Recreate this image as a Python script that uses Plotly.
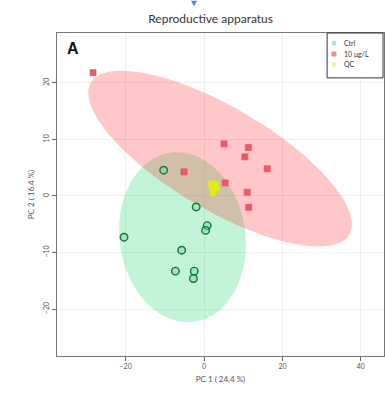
import numpy as np
import plotly.graph_objects as go

# ---- data ----
ctrl_x = [-10.3, -2.0, 0.8, 0.4, -20.4, -5.7, -7.3, -2.5, -2.7]
ctrl_y = [4.55, -1.95, -5.25, -6.1, -7.3, -9.6, -13.3, -13.3, -14.6]
trt_x = [-28.3, 5.1, 11.3, 10.4, 16.1, -5.1, 5.4, 11.0, 11.4]
trt_y = [21.8, 9.2, 8.55, 6.9, 4.8, 4.25, 2.3, 0.65, -2.0]
qc_x = [1.8, 2.8, 2.3, 3.1, 2.3]
qc_y = [2.1, 2.1, 1.4, 1.4, 0.5]

# confidence ellipses: center, two conjugate semi-axis vectors (data units)
ctrl_ell = dict(c=(-5.5, -7.3), u=(3.06, -14.96), v=(15.9, 1.56))
trt_ell = dict(c=(4.1, 6.6), u=(33.0, -13.4), v=(6.5, 7.9))

x_ticks = [-20, 0, 20, 40]
y_ticks = [-20, -10, 0, 10, 20]
title_text = "Reproductive apparatus"
x_title = "PC 1 ( 24.4 %)"
y_title = "PC 2 ( 16.4 %)"
names = ["Ctrl", "10 μg/L", "QC"]


def ellipse(e, n=240):
    t = np.linspace(0, 2 * np.pi, n)
    cx, cy = e["c"]
    ux, uy = e["u"]
    vx, vy = e["v"]
    return cx + ux * np.cos(t) + vx * np.sin(t), cy + uy * np.cos(t) + vy * np.sin(t)


fig = go.Figure()
gx, gy = ellipse(ctrl_ell)
fig.add_trace(go.Scatter(x=gx, y=gy, mode="lines", fill="toself",
                         fillcolor="rgba(0,215,90,0.24)", line=dict(width=0),
                         hoverinfo="skip", showlegend=False))
rx, ry = ellipse(trt_ell)
fig.add_trace(go.Scatter(x=rx, y=ry, mode="lines", fill="toself",
                         fillcolor="rgba(255,20,20,0.24)", line=dict(width=0),
                         hoverinfo="skip", showlegend=False))

fig.add_trace(go.Scatter(x=ctrl_x, y=ctrl_y, mode="markers", name=names[0], showlegend=False,
                         marker=dict(symbol="circle", size=7.5, color="rgba(110,220,150,0.45)",
                                     line=dict(color="#1f6e3d", width=1.4))))
fig.add_trace(go.Scatter(x=trt_x, y=trt_y, mode="markers", name=names[1], showlegend=False,
                         marker=dict(symbol="square", size=6, color="#f05868",
                                     line=dict(color="#e04858", width=0.6))))
fig.add_trace(go.Scatter(x=qc_x, y=qc_y, mode="markers", name=names[2], showlegend=False,
                         marker=dict(symbol="circle", size=7, color="#dcee10",
                                     line=dict(width=0))))

axis_common = dict(showgrid=True, gridcolor="#efefef", gridwidth=1, zeroline=False,
                   showline=True, linecolor="#777777", linewidth=1, mirror=True,
                   ticks="outside", ticklen=4, tickcolor="#666666",
                   tickfont=dict(family="Lato", size=7, color="#555555"))

fig.update_xaxes(range=[-37.5, 45.9], tickvals=x_ticks,
                 title=dict(text=x_title, font=dict(family="Lato", size=8, color="#555555"), standoff=6),
                 **axis_common)
fig.update_yaxes(range=[-28.3, 28.8], tickvals=y_ticks, tickangle=-90,
                 title=dict(text=y_title, font=dict(family="Lato", size=8, color="#555555"), standoff=6),
                 **axis_common)

# ---- compact legend drawn as layout items (paper coordinates) ----
leg_colors = ["#9ef0bc", "#f48a8a", "#f2f28a"]
leg_kinds = ["circle", "rect", "circle"]
shapes = [dict(type="rect", xref="paper", yref="paper", x0=0.826, x1=0.997, y0=0.861, y1=1.0,
               fillcolor="white", line=dict(color="#333333", width=1), layer="above")]
annotations = [dict(text="<b>A</b>", xref="paper", yref="paper", x=0.025, y=0.985,
                    xanchor="left", yanchor="top", showarrow=False,
                    font=dict(family="Liberation Sans", size=16, color="#111111"))]
row_y = [0.969, 0.935, 0.903]
gxp, rxp, ryp = 0.847, 0.0075, 0.0076
for lab, col, kind, yy in zip(names, leg_colors, leg_kinds, row_y):
    shapes.append(dict(type=kind, xref="paper", yref="paper",
                       x0=gxp - rxp, x1=gxp + rxp, y0=yy - ryp, y1=yy + ryp,
                       fillcolor=col, line=dict(width=0), layer="above"))
    annotations.append(dict(text=lab, xref="paper", yref="paper", x=0.872, y=yy,
                            xanchor="left", yanchor="middle", showarrow=False,
                            font=dict(family="Lato", size=7, color="#333333")))

# small blue arrow tip above the title
shapes.append(dict(type="path", xref="paper", yref="paper",
                   path="M 0.410 1.10 L 0.428 1.10 L 0.419 1.082 Z",
                   fillcolor="#4a8fd8", line=dict(width=0)))

fig.update_layout(
    width=385, height=397,
    margin=dict(l=57, r=1, t=33, b=41),
    paper_bgcolor="white", plot_bgcolor="white",
    title=dict(text=title_text, x=0.547, xanchor="center", y=0.952, yanchor="middle",
               font=dict(family="Lato", size=12, color="#333333")),
    showlegend=False,
    annotations=annotations,
    shapes=shapes,
)

fig.write_html("out.html")
